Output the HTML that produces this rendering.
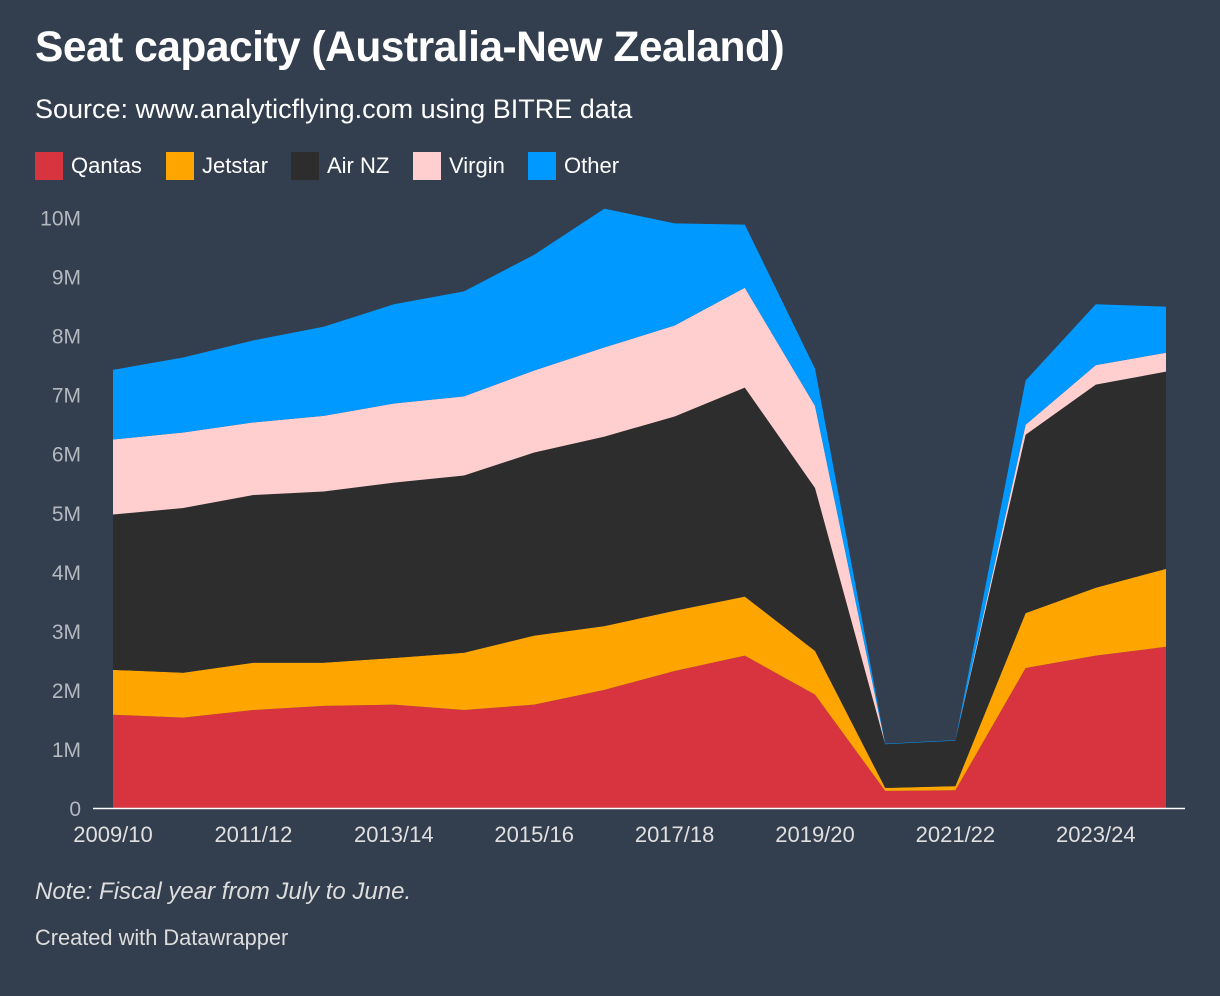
<!DOCTYPE html>
<html><head><meta charset="utf-8"><style>
body{margin:0;width:1220px;height:996px;background:#333e4e;font-family:"Liberation Sans",sans-serif;color:#fff;overflow:hidden}
.t{position:absolute;left:35px;top:24px;font-size:42.5px;font-weight:bold;letter-spacing:-0.5px}
.s{position:absolute;left:35px;top:94px;font-size:27px}
.lg{position:absolute;top:152px;font-size:22px;display:flex;align-items:center}
.lg i{display:inline-block;width:28px;height:28px;margin-right:8px}
.n{position:absolute;left:35px;top:878px;font-size:24px;font-style:italic;color:#ddd}
.c{position:absolute;left:35px;top:925px;font-size:21.8px;color:#ddd}
svg{position:absolute;left:0;top:0}
</style></head><body>
<div class="t">Seat capacity (Australia-New Zealand)</div>
<div class="s">Source: www.analyticflying.com using BITRE data</div>
<div class="lg" style="left:35px"><i style="background:#d7343f"></i>Qantas</div>
<div class="lg" style="left:166px"><i style="background:#ffa500"></i>Jetstar</div>
<div class="lg" style="left:291px"><i style="background:#2d2d2d"></i>Air NZ</div>
<div class="lg" style="left:413px"><i style="background:#ffcfcf"></i>Virgin</div>
<div class="lg" style="left:528px"><i style="background:#0099ff"></i>Other</div>
<svg id="ch" width="1220" height="996"></svg>
<div class="n">Note: Fiscal year from July to June.</div>
<div class="c">Created with Datawrapper</div>
<script>
const years=["2009/10","2010/11","2011/12","2012/13","2013/14","2014/15","2015/16","2016/17","2017/18","2018/19","2019/20","2020/21","2021/22","2022/23","2023/24","2024/25"];
const qantas=[1.58,1.53,1.66,1.73,1.75,1.66,1.75,2.0,2.32,2.58,1.92,0.29,0.30,2.37,2.58,2.73];
const jetstar=[0.76,0.76,0.80,0.73,0.79,0.97,1.17,1.08,1.02,1.00,0.74,0.05,0.07,0.93,1.15,1.32];
const airnz=[2.63,2.79,2.84,2.90,2.97,3.00,3.10,3.21,3.29,3.54,2.76,0.74,0.77,3.02,3.44,3.34];
const virgin=[1.27,1.28,1.23,1.28,1.34,1.34,1.39,1.51,1.54,1.69,1.39,0.0,0.0,0.17,0.33,0.32];
const other=[1.18,1.27,1.39,1.51,1.68,1.78,1.96,2.35,1.73,1.07,0.63,0.01,0.01,0.75,1.03,0.78];
const yTicks=[0,1,2,3,4,5,6,7,8,9,10];
const xLabels=["2009/10","2011/12","2013/14","2015/16","2017/18","2019/20","2021/22","2023/24"];
const NS="http://www.w3.org/2000/svg",svg=document.getElementById('ch');
const x=i=>113+i*(1166-113)/(years.length-1);
const y=v=>808-v*59.05;
function mk(t,a){const e=document.createElementNS(NS,t);for(const k in a)e.setAttribute(k,a[k]);svg.appendChild(e);return e;}
yTicks.forEach(v=>{const e=mk('text',{x:81,y:y(v)+8,fill:'#b4b8bf','font-size':21,'text-anchor':'end','font-family':'Liberation Sans'});e.textContent=v?v+'M':'0';

});
const series=[[qantas,'#d7343f','qantas'],[jetstar,'#ffa500','jetstar'],[airnz,'#2d2d2d','airnz'],[virgin,'#ffcfcf','virgin'],[other,'#0099ff','other']];
let base=years.map(()=>0);
series.forEach(([d,col,nm])=>{const top=base.map((b,i)=>b+d[i]);
let p='M'+top.map((v,i)=>x(i)+','+y(v)).join('L');
for(let i=years.length-1;i>=0;i--)p+='L'+x(i)+','+y(base[i]);
const e=mk('path',{d:p+'Z',fill:col});


base=top;});
const ax=mk('line',{x1:93,x2:1185,y1:808.5,y2:808.5,stroke:'#fff','stroke-width':1.5});


xLabels.forEach(l=>{const i=years.indexOf(l);const e=mk('text',{x:x(i),y:842,fill:'#e0e0e0','font-size':22,'text-anchor':'middle','font-family':'Liberation Sans'});e.textContent=l;

});
</script>
</body></html>
